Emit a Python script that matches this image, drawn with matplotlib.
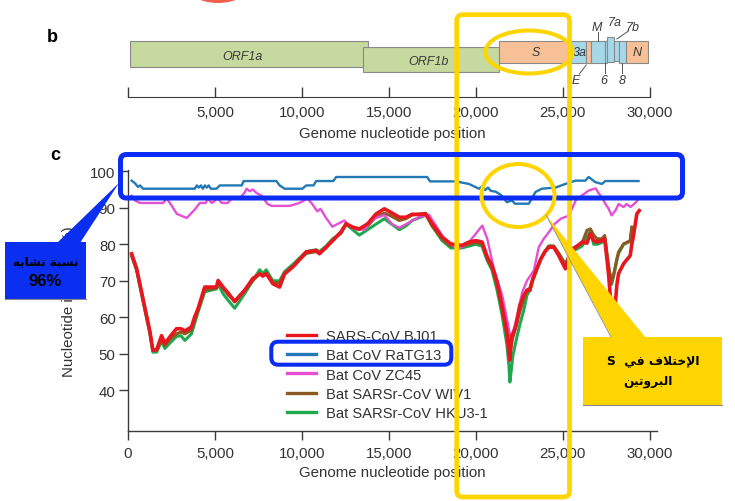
import matplotlib
matplotlib.use('Agg')
import matplotlib.pyplot as plt
from matplotlib.patches import FancyBboxPatch, Rectangle, Ellipse, Polygon
from matplotlib.ticker import FuncFormatter
from matplotlib.font_manager import FontProperties

plt.rcParams['font.family'] = ['Liberation Sans', 'DejaVu Sans']

nan = float('nan')

# ---------------- data ----------------
series_names = ['SARS-CoV BJ01', 'Bat CoV RaTG13', 'Bat CoV ZC45',
                'Bat SARSr-CoV WIV1', 'Bat SARSr-CoV HKU3-1']

pos_main = [210, 500, 860, 1260, 1430, 1650, 1930, 2120, 2410, 2790,
            3040, 3270, 3650, 3840, 4030, 4410, 5090, 5180, 5460, 5790,
            6135, 6710, 7170, 7570, 7760, 7950, 8330, 8720, 9000, 9480,
            10250, 10820, 11010, 11390, 11770, 12250, 12540, 12920, 13300, 13780,
            14260, 14740, 15020, 15600, 15980, 16340, 17130, 17490, 18060, 18560,
            19210, 19610, 20000, 20360, 20660, 20930, 21220, 21500, 21790, 21900,
            21960, 22050, 22130, 22310, 22530, 22760, 22940, 23110, 23280, 23510,
            23740, 23970, 24200, 24480, 24770, 25150, 25530, 26110, 26390, 26590,
            26780, 26970, 27260, 27410, 27540, 27640, 27730, 27810, 27960, 28110,
            28210, 28500, 28880, 28970, 29070, 29260, 29400]

sars_bj01 = [77.4, 73.3, 65.1, 56.1, 51.0, 51.2, 55.0, 52.8, 54.7, 56.9,
             56.9, 56.3, 57.4, 60.2, 62.4, 68.3, 68.3, 70.1, 68.3, 66.5,
             64.3, 67.4, 70.6, 71.9, 71.3, 72.0, 69.2, 68.3, 71.9, 73.8,
             77.9, 78.3, 77.4, 79.2, 81.0, 83.3, 85.6, 84.7, 84.2, 85.6,
             88.3, 89.7, 89.0, 87.4, 87.4, 88.2, 88.2, 85.6, 82.0, 80.1,
             79.7, 80.6, 81.0, 80.6, 76.5, 74.2, 69.7, 63.3, 56.0, 50.5,
             48.3, 55.0, 55.1, 57.8, 63.2, 66.0, 67.4, 67.4, 70.6, 73.3,
             76.0, 77.9, 79.2, 79.2, 76.9, 73.3, 78.3, 80.6, 80.3, 82.9,
             81.0, 80.6, 81.0, 81.5, 76.0, 71.5, 66.0, 62.4, 60.2, 68.8,
             72.0, 74.7, 76.9, 80.0, 82.4, 88.3, 89.2]

wiv1 = [77.0, 73.0, 65.0, 56.0, 51.0, 51.0, 54.0, 52.3, 54.0, 55.5,
        56.0, 55.5, 56.5, 59.5, 62.0, 67.5, 68.0, 69.5, 68.0, 66.0,
        64.5, 67.5, 70.0, 72.0, 71.5, 72.0, 69.5, 69.5, 72.0, 74.0,
        77.5, 78.0, 77.5, 79.0, 81.0, 83.5, 85.5, 84.5, 84.0, 85.0,
        87.5, 88.5, 88.0, 86.5, 87.0, 88.0, 88.5, 85.0, 81.5, 79.5,
        79.5, 80.0, 80.5, 80.0, 76.0, 73.5, 69.0, 62.5, 55.0, 51.0,
        50.0, 52.5, 54.5, 57.5, 61.5, 65.0, 67.5, 68.0, 70.5, 73.5,
        76.0, 78.0, 79.5, 79.5, 77.5, 74.5, 78.8, 80.3, 83.8, 84.2,
        82.5, 81.5, 81.5, 82.4, 77.6, 74.0, 71.5, 69.6, 72.5, 76.0,
        77.9, 80.1, 81.0, 84.7, nan, nan, nan]

hku3_1 = [76.8, 72.8, 64.5, 55.5, 50.5, 50.5, 53.5, 51.5, 53.0, 54.8,
          55.0, 53.7, 55.5, 58.5, 61.5, 67.0, 67.8, 69.3, 66.5, 64.5,
          62.5, 66.5, 70.0, 73.0, 72.0, 73.0, 70.0, 70.0, 72.5, 74.5,
          78.0, 78.5, 78.0, 79.5, 81.5, 83.0, 85.5, 84.0, 82.5, 84.0,
          85.5, 87.0, 86.0, 84.0, 85.0, 86.5, 88.0, 85.0, 81.0, 79.0,
          79.0, 79.5, 80.0, 79.5, 75.5, 73.0, 67.5, 61.0, 52.5, 47.0,
          42.3, 46.0, 49.5, 53.5, 58.0, 62.0, 66.0, 67.5, 70.0, 73.0,
          76.0, 78.0, 79.5, 79.5, 77.5, 74.5, 78.0, 79.5, 82.0, 83.5,
          80.0, 80.0, 80.5, 82.0, 77.0, 73.5, 71.0, 69.0, 72.0, 75.5,
          77.5, 80.0, 80.8, 84.5, nan, nan, nan]

pos_ratg13 = [210, 400, 570, 690, 860, 3840, 3960, 4070, 4190, 4300,
              4420, 4530, 4640, 4760, 5090, 5280, 6540, 6650, 8530, 8720,
              9000, 10030, 10250, 10670, 10820, 11810, 11970, 17200, 17370, 18850,
              19610, 20180, 20360, 20530, 20700, 20870, 21140, 21440, 21790, 22080,
              22250, 23050, 23430, 23800, 24580, 25150, 25730, 26300, 26490, 26870,
              27250, 27450, 29360]
ratg13 = [97.4, 96.7, 95.7, 96.1, 95.2, 95.2, 96.1, 95.5, 96.1, 95.2,
          96.1, 95.5, 96.1, 95.2, 95.2, 96.1, 96.1, 97.3, 97.3, 96.1,
          95.2, 95.2, 96.1, 96.1, 97.3, 97.3, 98.4, 98.4, 97.2, 97.2,
          96.5, 95.2, 95.8, 94.8, 95.5, 94.6, 94.4, 93.5, 91.5, 92.0,
          91.1, 91.1, 94.3, 95.2, 95.5, 96.5, 97.4, 97.4, 98.4, 97.0,
          96.5, 97.3, 97.3]

pos_zc45 = [210, 400, 690, 2010, 2240, 2520, 2810, 3380, 3840, 4130,
            4470, 4590, 4820, 5160, 5390, 5730, 5960, 6420, 6710, 6820,
            7000, 7170, 7400, 7680, 8030, 8260, 9290, 9860, 10320, 10550,
            10890, 11070, 11350, 11750, 12440, 12730, 13020, 13590, 13930, 14160,
            14740, 15190, 15600, 16170, 16740, 17320, 17720, 18180, 18520, 19040,
            19610, 20000, 20370, 20660, 21040, 21520, 21900, 22000, 22190, 22380,
            22670, 22950, 23340, 23620, 23910, 24200, 24540, 24890, 25340, 25750,
            26090, 26490, 26890, 27060, 27240, 27460, 27640, 27810, 28040, 28210,
            28500, 28670, 28900, 29190, 29360]
zc45 = [93.3, 92.0, 91.3, 91.3, 92.5, 90.5, 88.3, 87.2, 89.5, 91.3,
        91.3, 92.5, 91.3, 92.5, 91.3, 91.3, 92.5, 92.5, 94.2, 95.2,
        94.5, 95.0, 94.0, 93.3, 91.0, 90.5, 90.5, 91.3, 92.5, 91.3,
        89.0, 89.7, 87.5, 84.8, 86.5, 85.0, 84.2, 84.0, 86.0, 87.0,
        88.0, 85.5, 84.5, 86.0, 87.5, 88.0, 85.0, 81.5, 80.0, 78.8,
        80.6, 82.9, 85.1, 81.5, 73.3, 66.0, 56.9, 54.6, 56.9, 60.5,
        66.9, 70.1, 72.8, 79.2, 81.5, 83.3, 85.6, 87.0, 87.8, 92.0,
        93.3, 94.7, 95.3, 94.0, 92.9, 91.0, 89.7, 87.9, 89.3, 91.0,
        90.2, 91.0, 90.2, 91.4, 92.4]

# genome map
gene_names = ['ORF1a', 'ORF1b', 'S', '3a', 'E', 'M', '6', '7a', '7b', '8', 'N']
gene_start = [100, 13500, 21350, 25460, 26350, 26620, 27430, 27570, 27970, 28240, 28650]
gene_end = [13780, 21350, 25460, 26350, 26620, 27430, 27570, 27970, 28240, 28650, 29900]

genome_ticks = [0, 5000, 10000, 15000, 20000, 25000, 30000]
identity_ticks = [40, 50, 60, 70, 80, 90, 100]

note_left = ['نسبة تشابه', '96%']
note_right = ['الإختلاف في  S', 'البروتين']

# ---------------- Arabic shaping (presentation forms, visual order) ----------------
FORMS = {
    'ا': ('\uFE8D', '\uFE8E', None, None),
    'إ': ('\uFE87', '\uFE88', None, None),
    'ل': ('\uFEDD', '\uFEDE', '\uFEDF', '\uFEE0'),
    'خ': ('\uFEA5', '\uFEA6', '\uFEA7', '\uFEA8'),
    'ت': ('\uFE95', '\uFE96', '\uFE97', '\uFE98'),
    'ف': ('\uFED1', '\uFED2', '\uFED3', '\uFED4'),
    'ي': ('\uFEF1', '\uFEF2', '\uFEF3', '\uFEF4'),
    'ب': ('\uFE8F', '\uFE90', '\uFE91', '\uFE92'),
    'ر': ('\uFEAD', '\uFEAE', None, None),
    'و': ('\uFEED', '\uFEEE', None, None),
    'ن': ('\uFEE5', '\uFEE6', '\uFEE7', '\uFEE8'),
    'س': ('\uFEB1', '\uFEB2', '\uFEB3', '\uFEB4'),
    'ة': ('\uFE93', '\uFE94', None, None),
    'ش': ('\uFEB5', '\uFEB6', '\uFEB7', '\uFEB8'),
    'ه': ('\uFEE9', '\uFEEA', '\uFEEB', '\uFEEC'),
}
LAM_ALEF = {'ا': ('\uFEFB', '\uFEFC', None, None), 'إ': ('\uFEF9', '\uFEFA', None, None)}


def shape_word(word):
    toks = []
    i = 0
    while i < len(word):
        c = word[i]
        if c == 'ل' and i + 1 < len(word) and word[i + 1] in LAM_ALEF:
            toks.append(LAM_ALEF[word[i + 1]])
            i += 2
        elif c in FORMS:
            toks.append(FORMS[c])
            i += 1
        else:
            toks.append((c, None, None, None))
            i += 1
    out = []
    for k, t in enumerate(toks):
        prev = toks[k - 1] if k > 0 else None
        nxt = toks[k + 1] if k + 1 < len(toks) else None
        jp = prev is not None and prev[2] is not None and t[1] is not None
        jn = nxt is not None and nxt[1] is not None and t[2] is not None
        if jp and jn:
            f = t[3]
        elif jp:
            f = t[1]
        elif jn:
            f = t[2]
        else:
            f = t[0]
        out.append(f)
    return ''.join(reversed(out))


def shape_line(line):
    words = line.split(' ')
    return ' '.join(shape_word(w) for w in reversed(words))


# ---------------- figure ----------------
W, H = 735, 502
fig = plt.figure(figsize=(W / 100, H / 100), dpi=100)


def fx(px):
    return px / W


def fy(py):
    return 1 - py / H


XMAX = 30420
TXT = '#333333'
SP = '#3a3a3a'
c_red, c_blue, c_mag, c_brown, c_green = '#e8161e', '#2379b6', '#e44fd4', '#8a5a22', '#1ea94f'

# ----- panel c -----
axc = fig.add_axes([fx(128), fy(431.7), 529 / W, 261 / H])
axc.set_xlim(0, XMAX)
axc.set_ylim(29, 100.4)
l_green, = axc.plot(pos_main, hku3_1, color=c_green, lw=2.2, zorder=2)
l_brown, = axc.plot(pos_main, wiv1, color=c_brown, lw=2.2, zorder=3)
l_mag, = axc.plot(pos_zc45, zc45, color=c_mag, lw=1.7, zorder=4)
l_red, = axc.plot(pos_main, sars_bj01, color=c_red, lw=2.6, zorder=5)
l_blue, = axc.plot(pos_ratg13, ratg13, color=c_blue, lw=1.7, zorder=6)

for s in ['top', 'right']:
    axc.spines[s].set_visible(False)
for s in ['left', 'bottom']:
    axc.spines[s].set_color(SP)
    axc.spines[s].set_linewidth(1.0)
axc.set_xticks(genome_ticks)
axc.set_yticks(identity_ticks)
axc.xaxis.set_major_formatter(FuncFormatter(lambda v, p: f'{int(v):,}'))
axc.tick_params(axis='both', direction='out', length=6.5, width=1, color=SP,
                labelsize=10.8, labelcolor=TXT)
axc.tick_params(axis='x', pad=4.5)
axc.tick_params(axis='y', pad=2.4)
axc.set_xlabel('Genome nucleotide position', fontsize=10.8, color=TXT, labelpad=3.5)
axc.set_ylabel('Nucleotide identity (%)', fontsize=10.8, color=TXT, labelpad=10)

leg = axc.legend([l_red, l_blue, l_mag, l_brown, l_green], series_names,
                 loc='upper left', bbox_to_anchor=(fx(287), fy(330)),
                 bbox_transform=fig.transFigure, frameon=False, borderpad=0,
                 borderaxespad=0, handlelength=1.95, handletextpad=0.68,
                 labelspacing=0.36, prop=FontProperties(family='Liberation Sans', size=10.6))
for t in leg.get_texts():
    t.set_color(TXT)
for ln in leg.get_lines():
    ln.set_linewidth(2.4)

# ----- panel b -----
axb = fig.add_axes([fx(128), fy(98), 529 / W, 83 / H])
axb.set_xlim(0, XMAX)
axb.set_ylim(98, 15)
axb.patch.set_alpha(0)
for s in ['top', 'right', 'left']:
    axb.spines[s].set_visible(False)
axb.spines['bottom'].set_bounds(0, 30000)
axb.spines['bottom'].set_color(SP)
axb.set_yticks([])
axb.set_xticks(genome_ticks)
axb.set_xticklabels([''] + [f'{t:,}' for t in genome_ticks[1:]])
axb.tick_params(axis='x', direction='in', length=7, width=1, color=SP, pad=5.5,
                labelsize=10.8, labelcolor=TXT)
axb.set_xlabel('Genome nucleotide position', fontsize=10.8, color=TXT, labelpad=5)

green_f, orange_f, blue_f, edge = '#c6d99e', '#f8c096', '#a6d8ea', '#8a8a8a'
gene_geom = {'ORF1a': (41.7, 26.0, green_f), 'ORF1b': (48.3, 25.0, green_f),
             'S': (41.7, 22.6, orange_f), '3a': (41.7, 22.6, blue_f),
             'E': (41.7, 22.6, orange_f), 'M': (41.7, 22.6, blue_f),
             '6': (41.7, 22.6, blue_f), '7a': (37.7, 25.6, blue_f),
             '7b': (41.7, 20.0, blue_f), '8': (41.7, 22.6, blue_f),
             'N': (41.7, 22.6, orange_f)}
for name, s0, s1 in zip(gene_names, gene_start, gene_end):
    top, hgt, col = gene_geom[name]
    axb.add_patch(Rectangle((s0, top), s1 - s0, hgt, fc=col, ec=edge, lw=0.8, zorder=2))

gtxt = dict(style='italic', fontsize=9, color='#3a3a3a', ha='center', va='center', zorder=4)
axb.text(6600, 57, 'ORF1a', **gtxt)
axb.text(17300, 62, 'ORF1b', **gtxt)
axb.text(23430, 53, 'S', **gtxt)
axb.text(29250, 53, 'N', **gtxt)
axb.text(26400, 53, '3a', **dict(gtxt, ha='right'))
axb.text(26970, 28, 'M', **gtxt)
axb.text(27970, 23, '7a', **gtxt)
axb.text(29050, 28, '7b', **gtxt)
axb.text(27380, 81, '6', **gtxt)
axb.text(28430, 81, '8', **gtxt)
axb.text(25730, 81, 'E', **gtxt)
lk = dict(color='#555555', lw=0.7, zorder=3)
axb.plot([27000, 27000], [33, 41.7], **lk)
axb.plot([28780, 28110], [32, 40], **lk)
axb.plot([26350, 25950], [66, 75], **lk)
axb.plot([27430, 27430], [64.3, 74], **lk)
axb.plot([28430, 28430], [64.3, 74], **lk)

fig.text(fx(47), fy(38), 'b', fontsize=13, weight='bold', va='center', ha='left')
fig.text(fx(50), fy(156), 'c', fontsize=13, weight='bold', va='center', ha='left')

# ----- overlay annotations (pixel coordinates) -----
ov = fig.add_axes([0, 0, 1, 1], zorder=10)
ov.set_xlim(0, W)
ov.set_ylim(H, 0)
ov.axis('off')
ov.patch.set_alpha(0)

YEL = '#ffd500'
BLU = '#0a2cf4'
BLUF = '#0b2ff0'

ov.add_patch(Ellipse((218, -22), 76, 52, fc='#f0604d', ec='none'))

ov.add_patch(FancyBboxPatch((456.7, 15.7), 112.8, 482.3, boxstyle='round,pad=0,rounding_size=6',
                            fill=False, ec=YEL, lw=3.4))
ov.add_patch(FancyBboxPatch((120.5, 155.5), 562, 43.5, boxstyle='round,pad=0,rounding_size=6',
                            fill=False, ec=BLU, lw=3.6))
ov.add_patch(FancyBboxPatch((271.3, 342.7), 180, 23, boxstyle='round,pad=0,rounding_size=7',
                            fill=False, ec=BLU, lw=2.9))

ov.add_patch(Ellipse((529, 53), 87, 43, fill=False, ec=YEL, lw=2.9))
ov.add_patch(Ellipse((518, 196.5), 73, 63, fill=False, ec=YEL, lw=2.9))

# left callout
ov.add_patch(Polygon([(57, 244), (80, 244), (119, 184)], closed=True, fc=BLUF, ec='none'))
ov.add_patch(Rectangle((5, 242.7), 81, 57.3, fc=BLUF, ec='none'))
ov.plot([5, 86], [300.3, 300.3], color='#8a8a8a', lw=0.8)
ov.text(45.5, 262, shape_line(note_left[0]), ha='center', va='center', fontsize=8.6,
        weight='bold', color='black', family=['DejaVu Sans'])
ov.text(45.5, 281.5, note_left[1], ha='center', va='center', fontsize=12,
        weight='bold', color='black', family=['Liberation Sans', 'DejaVu Sans'])

# right callout
ov.add_patch(Polygon([(546, 216), (612, 339), (646, 339)], closed=True, fc=YEL, ec='none'))
ov.plot([546, 611], [216, 338], color='#8a8a8a', lw=0.6)
ov.add_patch(Rectangle((583.3, 338.3), 138.4, 67.7, fc=YEL, ec='none'))
ov.plot([583.3, 721.7], [406.3, 406.3], color='#8a8a8a', lw=0.8)
ov.text(653, 361, shape_line(note_right[0]), ha='center', va='center', fontsize=8.8,
        weight='bold', color='black', family=['DejaVu Sans'])
ov.text(648, 382, shape_line(note_right[1]), ha='center', va='center', fontsize=8.8,
        weight='bold', color='black', family=['DejaVu Sans'])

fig.savefig('out.png', dpi=100)
